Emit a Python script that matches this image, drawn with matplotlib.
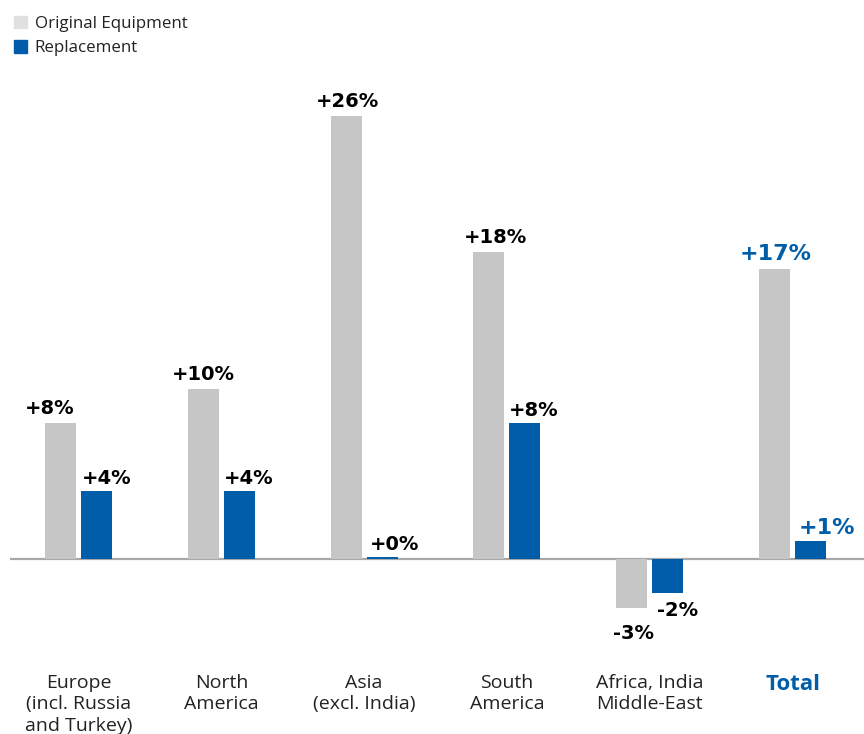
import matplotlib
matplotlib.use("Agg")
import matplotlib.pyplot as plt
from matplotlib.patches import Patch

categories = ["Europe\n(incl. Russia\nand Turkey)", "North\nAmerica", "Asia\n(excl. India)",
              "South\nAmerica", "Africa, India\nMiddle-East", "Total"]
original_equipment = [8, 10, 26, 18, -2.9, 17]
replacement = [4, 4, 0.1, 8, -2, 1.05]
oe_labels = ["+8%", "+10%", "+26%", "+18%", "-3%", "+17%"]
rep_labels = ["+4%", "+4%", "+0%", "+8%", "-2%", "+1%"]

GRAY = "#C6C6C6"
BLUE = "#005DAA"
plt.rcParams['font.family'] = ['Open Sans', 'DejaVu Sans']
VAL_FONT = ['DejaVu Sans']

fig = plt.figure(figsize=(8.64, 7.34), dpi=100)
ax = fig.add_axes([10/864, 1-627/734, 854/864, (627-82)/734])
x = list(range(len(categories)))
w = 0.217
off = 0.126
ax.bar([i - off for i in x], original_equipment, w, color=GRAY)
ax.bar([i + off for i in x], replacement, w, color=BLUE)
ax.set_xlim(-0.48, 5.50)
ax.set_ylim(-4, 28)
ax.axhline(0, color="#A8A8A8", lw=1.6, zorder=0)
for s in ax.spines.values():
    s.set_visible(False)
ax.set_xticks([])
ax.set_yticks([])

oe_dx = [-11, 0, 1, 7, 2, 1]
rep_dx = [10, 9, 12, 9, 10, 16]
for i in x:
    total = i == len(x) - 1
    col = BLUE if total else "black"
    fs = 16 if total else 14
    v = original_equipment[i]
    ax.annotate(oe_labels[i], (i - off, v), xytext=(oe_dx[i], 5 if v >= 0 else -16),
                textcoords="offset pixels", ha="center", va="bottom" if v >= 0 else "top",
                fontsize=fs, fontweight="bold", color=col, family=VAL_FONT)
    v = replacement[i]
    ax.annotate(rep_labels[i], (i + off, v), xytext=(rep_dx[i], 3 if v >= 0 else -8),
                textcoords="offset pixels", ha="center", va="bottom" if v >= 0 else "top",
                fontsize=fs, fontweight="bold", color=col, family=VAL_FONT)
    fig.text((10 + (i + 0.48) / 5.98 * 854) / 864, 1 - 674/734, categories[i],
             ha="center", va="top", fontsize=16 if total else 14,
             fontweight="bold" if total else "normal",
             color=BLUE if total else "#222222", linespacing=1.24)

handles = [Patch(color="#E0E0E0"), Patch(color=BLUE)]
fig.legend(handles, ["Original Equipment", "Replacement"], loc="upper left",
           bbox_to_anchor=(0.003, 0.995), frameon=False, fontsize=12.2,
           handlelength=0.75, handleheight=0.75, handletextpad=0.45,
           labelspacing=0.5, borderaxespad=0.3, labelcolor="#222222")

fig.savefig("out.png", dpi=100)
